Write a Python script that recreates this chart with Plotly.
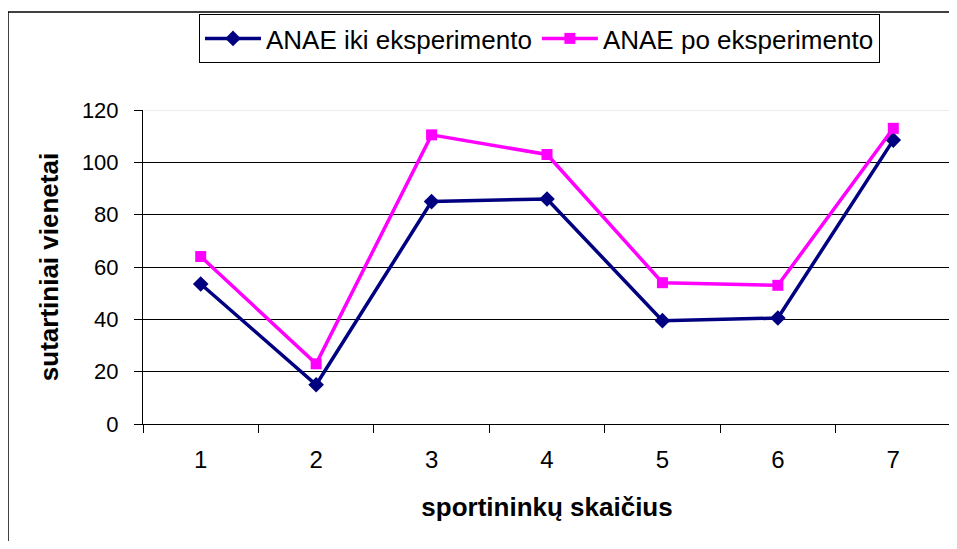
import plotly.graph_objects as go

categories = ["1", "2", "3", "4", "5", "6", "7"]
anae_iki = [53.5, 15, 85, 86, 39.5, 40.5, 108.5]
anae_po = [64, 23, 110.5, 103, 54, 53, 113]
series_names = ["ANAE iki eksperimento", "ANAE po eksperimento"]
y_ticks = [0, 20, 40, 60, 80, 100, 120]

FONT = "Liberation Sans, Arial, sans-serif"

fig = go.Figure()
fig.add_trace(go.Scatter(
    x=categories, y=anae_iki, name=series_names[0], mode="lines+markers",
    line=dict(color="#000080", width=3.5),
    marker=dict(symbol="diamond", size=12, color="#000080"),
))
fig.add_trace(go.Scatter(
    x=categories, y=anae_po, name=series_names[1], mode="lines+markers",
    line=dict(color="#FF00FF", width=3.5),
    marker=dict(symbol="square", size=11, color="#FF00FF"),
))

OFF = 8  # page body margin
W, H = 949, 533
L, T = 143 - OFF, 110 - OFF
R = W - (951 - OFF)
B = H - (424 - OFF)
pw = W - L - R
ph = H - T - B

def px_x(p):
    return (p - OFF - L) / pw

def px_y(p):
    return (H - B - (p - OFF)) / ph

fig.update_layout(
    width=W, height=H,
    margin=dict(l=L, r=R, t=T, b=B, autoexpand=False),
    paper_bgcolor="white", plot_bgcolor="white",
    font=dict(family=FONT, color="black"),
    showlegend=True,
    legend=dict(
        orientation="h", x=px_x(199), y=px_y(14), xanchor="left", yanchor="top",
        font=dict(size=26, family=FONT, color="black"),
        bordercolor="black", borderwidth=1, bgcolor="white",
        itemwidth=56,
    ),
    xaxis=dict(
        type="category", range=[-0.5, 6.5], automargin=False,
        tickson="boundaries", ticks="outside", ticklen=8, tickcolor="black",
        showline=True, linecolor="black", linewidth=1,
        showgrid=False, zeroline=False,
        tickfont=dict(size=24, family=FONT),
        ticklabelstandoff=14,
        title=dict(text="<b>sportininkų skaičius</b>", font=dict(size=26, family=FONT), standoff=26),
    ),
    yaxis=dict(
        range=[0, 120], tickvals=y_ticks, automargin=False,
        ticks="outside", ticklen=8, tickcolor="black",
        showline=True, linecolor="black", linewidth=1,
        showgrid=True, gridcolor="black", gridwidth=1, zeroline=False,
        tickfont=dict(size=22, family=FONT),
        ticklabelstandoff=11,
        title=dict(text="<b>sutartiniai vienetai</b>", font=dict(size=26, family=FONT), standoff=15),
    ),
    shapes=[
        dict(type="line", xref="paper", yref="y", x0=0.0015, x1=1, y0=120, y1=120,
             line=dict(color="#e6e6e6", width=1.5), layer="above"),
        dict(type="line", xref="paper", yref="paper",
             x0=px_x(8), y0=px_y(12), x1=px_x(960), y1=px_y(12),
             line=dict(color="black", width=1.5), layer="below"),
        dict(type="line", xref="paper", yref="paper",
             x0=px_x(8), y0=px_y(12), x1=px_x(8), y1=px_y(560),
             line=dict(color="black", width=1.5), layer="below"),
    ],
)

fig.write_html("out.html")
